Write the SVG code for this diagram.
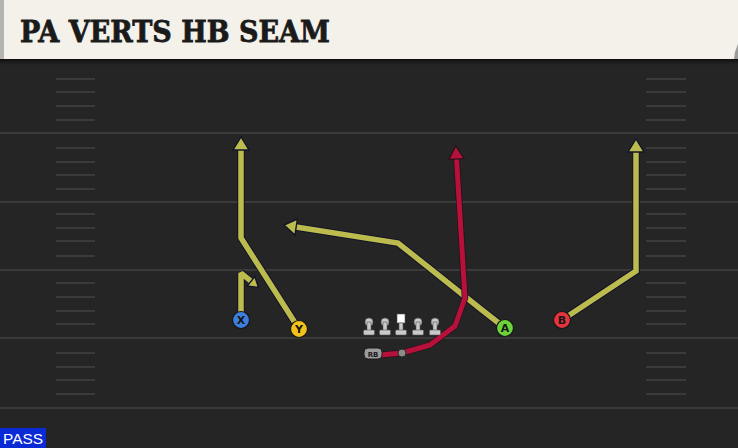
<svg xmlns="http://www.w3.org/2000/svg" width="738" height="448" viewBox="0 0 738 448">
<defs>
<style>
.yard{stroke:#3a3a3a;stroke-width:2}
.hash{stroke:#3b3b3b;stroke-width:2}
.out{fill:none;stroke:#14142a;stroke-width:7.5;stroke-linejoin:miter}
.ry{fill:none;stroke:#bcbc4e;stroke-width:5.5;stroke-linejoin:miter}
.rr{fill:none;stroke:#b5113a;stroke-width:5;stroke-linejoin:round}
.rro{fill:none;stroke:#2a1018;stroke-width:6.5;stroke-linejoin:round}
.hy{fill:#bcbc4e;stroke:#14142a;stroke-width:1.4;stroke-linejoin:miter}
.hr{fill:#b5113a;stroke:#2a1018;stroke-width:1.2;stroke-linejoin:miter}
.pl{stroke:#161616;stroke-width:1.2}
.lbl{font-family:"DejaVu Sans","Liberation Sans",sans-serif;font-weight:bold;font-size:11px;fill:#161616;text-anchor:middle}
.ol{fill:#c9c9c9;stroke:#555;stroke-width:0.6}
</style>
<linearGradient id="sh" x1="0" y1="0" x2="0" y2="1">
<stop offset="0" stop-color="#0c0c0c"/>
<stop offset="1" stop-color="#252525" stop-opacity="0"/>
</linearGradient>
</defs>
<rect width="738" height="448" fill="#252525"/>
<g id="field">
<line class="yard" x1="0" y1="133" x2="738" y2="133"/>
<line class="yard" x1="0" y1="202" x2="738" y2="202"/>
<line class="yard" x1="0" y1="270" x2="738" y2="270"/>
<line class="yard" x1="0" y1="338" x2="738" y2="338"/>
<line class="yard" x1="0" y1="408" x2="738" y2="408"/>
<g id="hashL">
<line class="hash" x1="56" y1="79" x2="95" y2="79"/><line class="hash" x1="56" y1="92" x2="95" y2="92"/><line class="hash" x1="56" y1="106" x2="95" y2="106"/><line class="hash" x1="56" y1="120" x2="95" y2="120"/>
<line class="hash" x1="56" y1="148" x2="95" y2="148"/><line class="hash" x1="56" y1="162" x2="95" y2="162"/><line class="hash" x1="56" y1="175" x2="95" y2="175"/><line class="hash" x1="56" y1="189" x2="95" y2="189"/>
<line class="hash" x1="56" y1="214" x2="95" y2="214"/><line class="hash" x1="56" y1="228" x2="95" y2="228"/><line class="hash" x1="56" y1="241" x2="95" y2="241"/><line class="hash" x1="56" y1="256" x2="95" y2="256"/>
<line class="hash" x1="56" y1="283" x2="95" y2="283"/><line class="hash" x1="56" y1="297" x2="95" y2="297"/><line class="hash" x1="56" y1="311" x2="95" y2="311"/><line class="hash" x1="56" y1="324" x2="95" y2="324"/>
<line class="hash" x1="56" y1="353" x2="95" y2="353"/><line class="hash" x1="56" y1="367" x2="95" y2="367"/><line class="hash" x1="56" y1="380" x2="95" y2="380"/><line class="hash" x1="56" y1="394" x2="95" y2="394"/>
</g>
<g id="hashR">
<line class="hash" x1="646" y1="79" x2="686" y2="79"/><line class="hash" x1="646" y1="92" x2="686" y2="92"/><line class="hash" x1="646" y1="106" x2="686" y2="106"/><line class="hash" x1="646" y1="120" x2="686" y2="120"/>
<line class="hash" x1="646" y1="148" x2="686" y2="148"/><line class="hash" x1="646" y1="162" x2="686" y2="162"/><line class="hash" x1="646" y1="175" x2="686" y2="175"/><line class="hash" x1="646" y1="189" x2="686" y2="189"/>
<line class="hash" x1="646" y1="214" x2="686" y2="214"/><line class="hash" x1="646" y1="228" x2="686" y2="228"/><line class="hash" x1="646" y1="241" x2="686" y2="241"/><line class="hash" x1="646" y1="256" x2="686" y2="256"/>
<line class="hash" x1="646" y1="283" x2="686" y2="283"/><line class="hash" x1="646" y1="297" x2="686" y2="297"/><line class="hash" x1="646" y1="311" x2="686" y2="311"/><line class="hash" x1="646" y1="324" x2="686" y2="324"/>
<line class="hash" x1="646" y1="353" x2="686" y2="353"/><line class="hash" x1="646" y1="367" x2="686" y2="367"/><line class="hash" x1="646" y1="380" x2="686" y2="380"/><line class="hash" x1="646" y1="394" x2="686" y2="394"/>
</g>
</g>
<g id="header">
<rect x="0" y="59" width="738" height="8" fill="url(#sh)"/>
<rect x="0" y="0" width="738" height="59" fill="#f4f1ea"/>
<rect x="0" y="0" width="4" height="59" fill="#b4b4b0"/>
<polygon points="735,52 738,44 738,59 734,59" fill="#9a9a98"/>
<text x="20" y="42" font-family="'DejaVu Serif','Liberation Serif',serif" font-weight="bold" font-size="30" fill="#1a1a1a" stroke="#1a1a1a" stroke-width="0.8" textLength="310" lengthAdjust="spacingAndGlyphs">PA VERTS HB SEAM</text>
</g>
<g id="connectors">
<path class="out" d="M299,329 L241,238 L241,150"/>
<path class="ry" d="M299,329 L241,238 L241,150"/>
<polygon class="hy" points="241,137 249,150 233,150"/>
<path class="out" style="stroke-linejoin:bevel" d="M241,312 L241,273 L251.5,281.7"/>
<path class="ry" style="stroke-linejoin:bevel" d="M241,312 L241,273 L251.5,281.7"/>
<polygon class="hy" points="258.5,287.5 247.2,286 254.8,276.6"/>
<path class="out" d="M505,328 L482,310 L398,243 L296,227"/>
<path class="ry" d="M505,328 L482,310 L398,243 L296,227"/>
<polygon class="hy" points="284,225 297.4,219 294.9,235"/>
<path class="out" d="M562,320 L636,271 L636,152"/>
<path class="ry" d="M562,320 L636,271 L636,152"/>
<polygon class="hy" points="636,139 644,152 628,152"/>
<path class="rro" d="M380,355 L402,353 L430,345 L455,326 L465,298 L456.5,158"/>
<path class="rr" d="M380,355 L402,353 L430,345 L455,326 L465,298 L456.5,158"/>
<polygon class="hr" points="455.8,146 464,158.5 449,159.3"/>
</g>
<g id="line">
<g id="lt"><circle class="ol" cx="369" cy="322" r="4"/><rect class="ol" x="367" y="322" width="4" height="10"/><rect class="ol" x="363.5" y="330" width="11" height="5" rx="1"/></g>
<g id="lg"><circle class="ol" cx="385" cy="322" r="4"/><rect class="ol" x="383" y="322" width="4" height="10"/><rect class="ol" x="379.5" y="330" width="11" height="5" rx="1"/></g>
<g id="c"><rect x="397" y="314" width="8" height="9" fill="#ffffff" stroke="#555" stroke-width="0.6"/><rect class="ol" x="399" y="323" width="4" height="8"/><rect class="ol" x="395.5" y="330" width="11" height="5" rx="1"/></g>
<g id="rg"><circle class="ol" cx="418" cy="322" r="4"/><rect class="ol" x="416" y="322" width="4" height="10"/><rect class="ol" x="412.5" y="330" width="11" height="5" rx="1"/></g>
<g id="rt"><circle class="ol" cx="435" cy="322" r="4"/><rect class="ol" x="433" y="322" width="4" height="10"/><rect class="ol" x="429.5" y="330" width="11" height="5" rx="1"/></g>
</g>
<g id="rb"><rect x="364" y="348" width="18" height="11" rx="4" fill="#9c9c9c" stroke="#1a1a1a" stroke-width="1"/><text x="373" y="356.5" font-family="'DejaVu Sans','Liberation Sans',sans-serif" font-size="7" font-weight="bold" fill="#1a1a1a" text-anchor="middle">RB</text></g>
<g id="qb"><circle cx="402" cy="353" r="4" fill="#8c8c8c" stroke="#2a2a2a" stroke-width="1"/></g>
<g id="X"><circle class="pl" cx="241" cy="320" r="8.5" fill="#3d7fdc"/><text class="lbl" x="241" y="324">X</text></g>
<g id="Y"><circle class="pl" cx="299" cy="329" r="8.5" fill="#f3c21a"/><text class="lbl" x="299" y="333">Y</text></g>
<g id="A"><circle class="pl" cx="505" cy="328" r="8.5" fill="#6cd43a"/><text class="lbl" x="505" y="332">A</text></g>
<g id="B"><circle class="pl" cx="562" cy="320" r="8.5" fill="#e4343c"/><text class="lbl" x="562" y="324">B</text></g>
<g id="pass"><rect x="0" y="428" width="46" height="20" fill="#0a2ad6"/><text x="3" y="444" font-family="'Liberation Sans',sans-serif" font-size="15" fill="#ffffff" textLength="40" lengthAdjust="spacingAndGlyphs">PASS</text></g>
</svg>
